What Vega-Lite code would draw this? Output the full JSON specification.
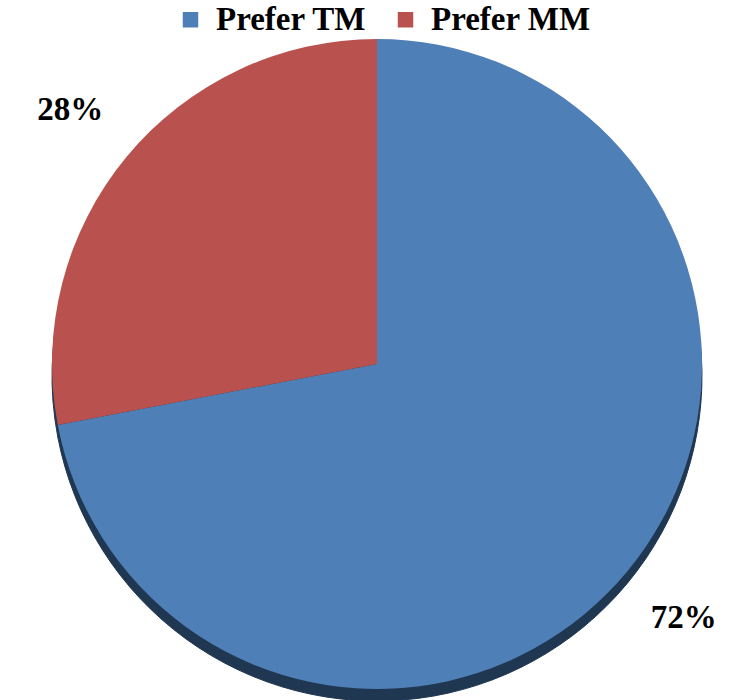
{
  "$schema": "https://vega.github.io/schema/vega-lite/v6.json",
  "width": 749,
  "height": 700,
  "padding": 0,
  "autosize": {"type": "none"},
  "background": "white",
  "config": {"view": {"stroke": null}},
  "data": {
    "values": [
      {"choice": "Prefer TM", "pct": 72, "label": "72%"},
      {"choice": "Prefer MM", "pct": 28, "label": "28%"}
    ]
  },
  "encoding": {
    "theta": {"field": "pct", "type": "quantitative", "stack": true},
    "order": {"field": "pct", "type": "quantitative", "sort": "descending"},
    "x": {"value": 377},
    "y": {"value": 364}
  },
  "layer": [
    {
      "description": "dark rim below the pie, giving it depth",
      "mark": {"type": "arc", "outerRadius": 325, "yOffset": 12, "fill": "#203752", "stroke": "#203752", "strokeWidth": 1}
    },
    {
      "mark": {"type": "arc", "outerRadius": 325, "stroke": null},
      "encoding": {
        "color": {
          "field": "choice",
          "type": "nominal",
          "scale": {"domain": ["Prefer TM", "Prefer MM"], "range": ["#4f7fb7", "#b9524f"]},
          "legend": {
            "title": null,
            "orient": "none",
            "direction": "horizontal",
            "legendX": 174,
            "legendY": 3,
            "symbolType": "square",
            "symbolSize": 240,
            "symbolStrokeWidth": 0,
            "labelFont": "Liberation Serif",
            "labelFontSize": 33,
            "labelFontWeight": "bold",
            "labelColor": "black",
            "labelOffset": 9,
            "labelLimit": 300,
            "columnPadding": 22
          }
        }
      }
    },
    {
      "mark": {"type": "text", "radius": 398, "font": "Liberation Serif", "fontSize": 33, "fontWeight": "bold", "color": "black"},
      "encoding": {"text": {"field": "label", "type": "nominal"}}
    }
  ]
}
